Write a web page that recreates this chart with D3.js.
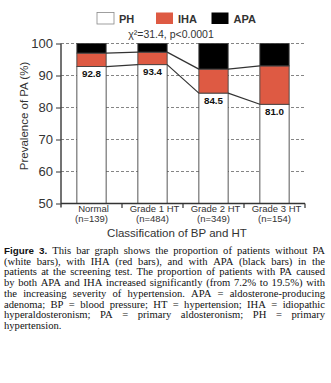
<!DOCTYPE html>
<html><head><meta charset="utf-8">
<script src="https://cdn.jsdelivr.net/npm/d3@7"></script>
<style>
html,body{margin:0;padding:0;background:#fff;}
svg{display:block;}
</style></head>
<body>
<svg id="chart" width="331" height="383"></svg>
<script>
const categories = ["Normal", "Grade 1 HT", "Grade 2 HT", "Grade 3 HT"];
const nLabels = ["(n=139)", "(n=484)", "(n=349)", "(n=154)"];
const seriesNames = ["PH", "IHA", "APA"];
const phValues = [92.8, 93.4, 84.5, 81.0];
const ihaValues = [4.2, 3.9, 7.5, 12.0];
const apaValues = [3.0, 2.7, 8.0, 7.0];
const phLabels = ["92.8", "93.4", "84.5", "81.0"];
const yTicks = [50, 60, 70, 80, 90, 100];
const statText = "χ²=31.4, p<0.0001";
const yTitle = "Prevalence of PA (%)";
const xTitle = "Classification of BP and HT";
const captionLines = [
  "Figure 3. This bar graph shows the proportion of patients without PA",
  "(white bars), with IHA (red bars), and with APA (black bars) in the",
  "patients at the screening test. The proportion of patients with PA caused",
  "by both APA and IHA increased significantly (from 7.2% to 19.5%) with",
  "the increasing severity of hypertension. APA = aldosterone-producing",
  "adenoma; BP = blood pressure; HT = hypertension; IHA = idiopathic",
  "hyperaldosteronism; PA = primary aldosteronism; PH = primary",
  "hypertension."
];

(function () {
const colors = {PH: "#ffffff", IHA: "#de5a43", APA: "#000000"};
const svg = d3.select("#chart");
const pLeft = 61, pRight = 305, pTop = 43.5, pBottom = 203.5;
const sans = "Arial, 'Liberation Sans', Helvetica, sans-serif";

const x = d3.scaleBand().domain(categories).range([pLeft, pRight]).paddingInner(0.52).paddingOuter(0.26);
const y = d3.scaleLinear().domain([50, 100]).range([pBottom, pTop]).clamp(true);
const bw = x.bandwidth();

const rows = categories.map((c, i) => ({cat: c, PH: phValues[i], IHA: ihaValues[i], APA: apaValues[i]}));
const stack = d3.stack().keys(seriesNames)(rows);

// gridlines
svg.append("g").selectAll("line").data(yTicks.filter(t => t > 50)).join("line")
  .attr("x1", pLeft).attr("x2", pRight)
  .attr("y1", d => y(d)).attr("y2", d => y(d))
  .attr("stroke", "#777").attr("stroke-width", 0.9).attr("stroke-dasharray", "3,2");

// bars
svg.append("g").selectAll("g").data(stack).join("g")
  .attr("fill", d => colors[d.key])
  .selectAll("rect").data(d => d).join("rect")
  .attr("x", d => x(d.data.cat))
  .attr("width", bw)
  .attr("y", d => y(d[1]))
  .attr("height", d => y(d[0]) - y(d[1]))
  .attr("stroke", "#444").attr("stroke-width", 0.9);

// connecting lines
const conn = svg.append("g").attr("stroke", "#333").attr("stroke-width", 1.2).attr("fill", "none");
[stack[0], stack[1]].forEach(s => {
  for (let i = 0; i < categories.length - 1; i++) {
    conn.append("line")
      .attr("x1", x(categories[i]) + bw).attr("y1", y(s[i][1]))
      .attr("x2", x(categories[i + 1])).attr("y2", y(s[i + 1][1]));
  }
});

// PH value labels
svg.append("g").selectAll("text").data(rows).join("text")
  .attr("x", d => x(d.cat) + bw / 2)
  .attr("y", d => y(d.PH) + 10.5)
  .attr("text-anchor", "middle")
  .attr("font-family", sans).attr("font-weight", "bold").attr("font-size", 9.8)
  .attr("fill", "#111")
  .text((d, i) => phLabels[i]);

// y axis
const yAxis = svg.append("g").attr("transform", `translate(${pLeft},0)`)
  .call(d3.axisLeft(y).tickValues(yTicks).tickSize(5).tickPadding(3).tickSizeOuter(0));
yAxis.select(".domain").remove();
yAxis.selectAll(".tick line").attr("stroke", "#333").attr("stroke-width", 1);
yAxis.selectAll(".tick text").attr("font-family", sans).attr("font-size", 13).attr("fill", "#333");
svg.append("line").attr("x1", pLeft).attr("x2", pLeft).attr("y1", pTop).attr("y2", pBottom + 4)
  .attr("stroke", "#444").attr("stroke-width", 1.5);

// x axis
svg.append("line").attr("x1", pLeft).attr("x2", pRight).attr("y1", pBottom).attr("y2", pBottom)
  .attr("stroke", "#333").attr("stroke-width", 1.5);
const step = x.step();
svg.append("g").selectAll("line").data(categories).join("line")
  .attr("x1", d => x(d) + bw / 2 + step / 2).attr("x2", d => x(d) + bw / 2 + step / 2)
  .attr("y1", pBottom).attr("y2", pBottom + 4.5)
  .attr("stroke", "#333").attr("stroke-width", 1.2);
const xl = svg.append("g").attr("font-family", sans).attr("font-size", 9.5).attr("fill", "#333").attr("text-anchor", "middle");
xl.selectAll("text.c").data(categories).join("text").attr("class", "c")
  .attr("x", d => x(d) + bw / 2 + 2).attr("y", pBottom + 8.5).text(d => d);
xl.selectAll("text.n").data(nLabels).join("text").attr("class", "n")
  .attr("x", (d, i) => x(categories[i]) + bw / 2).attr("y", pBottom + 18).text(d => d);

svg.append("text").attr("x", 177).attr("y", 236.5).attr("text-anchor", "middle")
  .attr("font-family", sans).attr("font-size", 11.5).attr("fill", "#333").text(xTitle);
svg.append("text").attr("transform", "translate(28,116) rotate(-90)").attr("text-anchor", "middle")
  .attr("font-family", sans).attr("font-size", 11.5).attr("fill", "#333").text(yTitle);

// stat text
svg.append("text").attr("x", 171).attr("y", 37.5).attr("text-anchor", "middle")
  .attr("font-family", sans).attr("font-size", 10.5).attr("fill", "#333").text(statText);

// legend
const legX = [97, 156, 211.5];
const lg = svg.append("g").selectAll("g").data(seriesNames).join("g")
  .attr("transform", (d, i) => `translate(${legX[i]},12.5)`);
lg.append("rect").attr("width", 17).attr("height", 11.5)
  .attr("fill", d => colors[d]).attr("stroke", d => d === "PH" ? "#888" : "none").attr("stroke-width", 0.8);
lg.append("text").attr("x", 22).attr("y", 10.5)
  .attr("font-family", sans).attr("font-weight", "bold").attr("font-size", 11).attr("fill", "#333")
  .text(d => d);

// caption (justified)
const capLeft = 4, capRight = 325, capTop = 254, lh = 10.7;
const serif = "'Liberation Serif', 'Times New Roman', serif";
captionLines.forEach((line, li) => {
  const words = line.split(" ");
  const t = svg.append("text").attr("y", capTop + li * lh)
    .attr("font-family", serif).attr("font-size", 10.6).attr("fill", "#111");
  const spans = words.map((w, wi) => {
    const s = t.append("tspan").text(w);
    if (li === 0 && wi < 2) s.attr("font-weight", "bold").attr("font-family", "Arial, 'Liberation Sans', sans-serif").attr("font-size", 9.8);
    return s;
  });
  const widths = spans.map(s => s.node().getComputedTextLength());
  const total = d3.sum(widths);
  const last = li === captionLines.length - 1;
  const gap = last ? 2.6 : (capRight - capLeft - total) / (words.length - 1);
  let cx = capLeft;
  spans.forEach((s, i) => { s.attr("x", cx); cx += widths[i] + gap; });
});
})();
</script>
</body></html>
